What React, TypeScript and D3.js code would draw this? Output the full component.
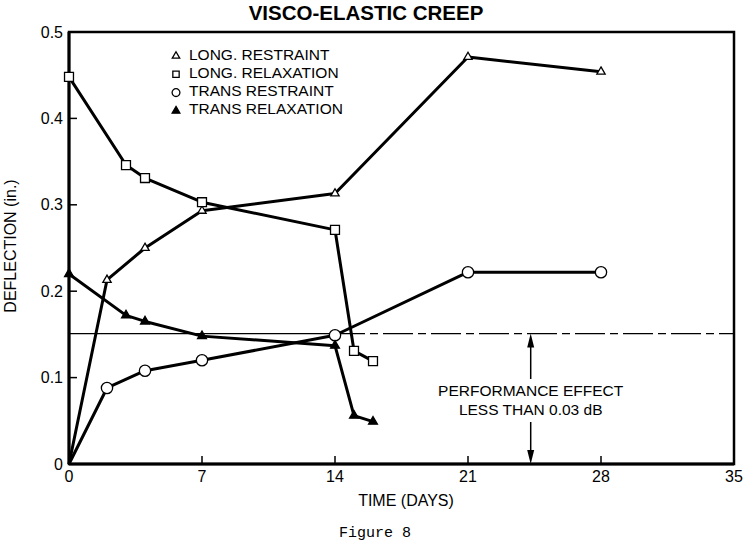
import React, { useEffect, useRef } from 'react';
import * as d3 from 'd3';

// days, deflection (in.)
const longRestraintDays = [0, 2, 4, 7, 14, 21, 28];
const longRestraintVals = [0, 0.213, 0.25, 0.293, 0.313, 0.471, 0.454];

const longRelaxDays = [0, 3, 4, 7, 14, 15, 16];
const longRelaxVals = [0.448, 0.346, 0.331, 0.303, 0.271, 0.131, 0.119];

const transRestraintDays = [0, 2, 4, 7, 14, 21, 28];
const transRestraintVals = [0, 0.088, 0.108, 0.12, 0.149, 0.222, 0.222];

const transRelaxDays = [0, 3, 4, 7, 14, 15, 16];
const transRelaxVals = [0.22, 0.172, 0.165, 0.148, 0.137, 0.056, 0.049];

const legendLabels = ['LONG. RESTRAINT', 'LONG. RELAXATION', 'TRANS RESTRAINT', 'TRANS RELAXATION'];
const xTicks = [0, 7, 14, 21, 28, 35];
const yTicks = [0, 0.1, 0.2, 0.3, 0.4, 0.5];
const yTickLabels = ['0', '0.1', '0.2', '0.3', '0.4', '0.5'];

const limitValue = 0.151;
const arrowDay = 24.3;

const W = 748;
const H = 544;

const App = () => {
  const svgRef = useRef<SVGSVGElement>(null);

  useEffect(() => {
    if (!svgRef.current) return;
    const svg = d3.select(svgRef.current);
    svg.selectAll('*').remove();

    const x = d3.scaleLinear().domain([0, 35]).range([69, 734]);
    const y = d3.scaleLinear().domain([0, 0.5]).range([464, 32]);
    const font = 'Liberation Sans, Arial, Helvetica, sans-serif';

    // title
    svg.append('text')
      .attr('x', 366).attr('y', 20)
      .attr('text-anchor', 'middle')
      .style('font-family', font).style('font-weight', 'bold').style('font-size', '20.5px')
      .text('VISCO-ELASTIC CREEP');

    // frame
    svg.append('rect')
      .attr('x', x(0)).attr('y', y(0.5))
      .attr('width', x(35) - x(0)).attr('height', y(0) - y(0.5))
      .attr('fill', 'none').attr('stroke', '#000').attr('stroke-width', 2.5);
    svg.append('line')
      .attr('x1', x(0)).attr('x2', x(35)).attr('y1', y(0)).attr('y2', y(0))
      .attr('stroke', '#000').attr('stroke-width', 3);
    svg.append('line')
      .attr('x1', x(0)).attr('x2', x(0)).attr('y1', y(0)).attr('y2', y(0.5))
      .attr('stroke', '#000').attr('stroke-width', 3);

    // y ticks
    yTicks.forEach((t, i) => {
      if (t > 0 && t < 0.5) {
        svg.append('line')
          .attr('x1', x(0)).attr('x2', x(0) + 8).attr('y1', y(t)).attr('y2', y(t))
          .attr('stroke', '#000').attr('stroke-width', 1.5);
      }
      svg.append('text')
        .attr('x', x(0) - 6).attr('y', y(t) + 5.5)
        .attr('text-anchor', 'end')
        .style('font-family', font).style('font-size', '16px')
        .text(yTickLabels[i]);
    });

    // x ticks
    xTicks.forEach(t => {
      if (t > 0 && t < 35) {
        svg.append('line')
          .attr('x1', x(t)).attr('x2', x(t)).attr('y1', y(0)).attr('y2', y(0) - 8)
          .attr('stroke', '#000').attr('stroke-width', 1.5);
      }
      svg.append('text')
        .attr('x', x(t)).attr('y', 482)
        .attr('text-anchor', 'middle')
        .style('font-family', font).style('font-size', '16px')
        .text(String(t));
    });

    svg.append('text')
      .attr('x', 406).attr('y', 506)
      .attr('text-anchor', 'middle')
      .style('font-family', font).style('font-size', '16px')
      .text('TIME (DAYS)');

    svg.append('text')
      .attr('transform', `translate(16, 246) rotate(-90)`)
      .attr('text-anchor', 'middle')
      .style('font-family', font).style('font-size', '16px')
      .text('DEFLECTION (in.)');

    svg.append('text')
      .attr('x', 375).attr('y', 537)
      .attr('text-anchor', 'middle')
      .style('font-family', 'Liberation Mono, Courier New, monospace').style('font-size', '15px')
      .text('Figure 8');

    // limit line: solid to day 14, dashed beyond
    svg.append('line')
      .attr('x1', x(0)).attr('x2', x(14)).attr('y1', y(limitValue)).attr('y2', y(limitValue))
      .attr('stroke', '#000').attr('stroke-width', 1.2);
    svg.append('line')
      .attr('x1', x(14)).attr('x2', x(35)).attr('y1', y(limitValue)).attr('y2', y(limitValue))
      .attr('stroke', '#000').attr('stroke-width', 1.2)
      .attr('stroke-dasharray', '30 5 8 5');

    // arrows
    const arrowTop = y(limitValue);
    const labelTop = 379;
    const labelBottom = 422;
    const ax = x(arrowDay);
    svg.append('line').attr('x1', ax).attr('x2', ax).attr('y1', arrowTop + 10).attr('y2', labelTop)
      .attr('stroke', '#000').attr('stroke-width', 1.5);
    svg.append('path')
      .attr('d', `M${ax},${arrowTop} L${ax - 3.5},${arrowTop + 14} L${ax + 3.5},${arrowTop + 14} Z`)
      .attr('fill', '#000');
    svg.append('line').attr('x1', ax).attr('x2', ax).attr('y1', labelBottom).attr('y2', y(0) - 10)
      .attr('stroke', '#000').attr('stroke-width', 1.5);
    svg.append('path')
      .attr('d', `M${ax},${y(0)} L${ax - 3.5},${y(0) - 14} L${ax + 3.5},${y(0) - 14} Z`)
      .attr('fill', '#000');

    svg.append('text')
      .attr('x', ax).attr('y', 396)
      .attr('text-anchor', 'middle')
      .style('font-family', font).style('font-size', '15.5px')
      .text('PERFORMANCE EFFECT');
    svg.append('text')
      .attr('x', ax).attr('y', 415)
      .attr('text-anchor', 'middle')
      .style('font-family', font).style('font-size', '15.5px')
      .text('LESS THAN 0.03 dB');

    // series
    const series = [
      { days: longRestraintDays, vals: longRestraintVals, sym: d3.symbolTriangle, size: 30, fill: '#fff' },
      { days: longRelaxDays, vals: longRelaxVals, sym: d3.symbolSquare, size: 80, fill: '#fff' },
      { days: transRestraintDays, vals: transRestraintVals, sym: d3.symbolCircle, size: 100, fill: '#fff' },
      { days: transRelaxDays, vals: transRelaxVals, sym: d3.symbolTriangle, size: 34, fill: '#000' },
    ];

    const line = d3.line<[number, number]>().x(d => x(d[0])).y(d => y(d[1]));

    series.forEach(s => {
      const pts: [number, number][] = s.days.map((d, i) => [d, s.vals[i]]);
      svg.append('path')
        .attr('d', line(pts))
        .attr('fill', 'none').attr('stroke', '#000').attr('stroke-width', 3)
        .attr('stroke-linejoin', 'round');
    });

    series.forEach(s => {
      const pts: [number, number][] = s.days.map((d, i) => [d, s.vals[i]]);
      svg.append('g').selectAll('path')
        .data(pts.filter(p => !(p[0] === 0 && p[1] === 0)))
        .enter().append('path')
        .attr('transform', d => `translate(${x(d[0])},${y(d[1])})`)
        .attr('d', d3.symbol().type(s.sym).size(s.size)())
        .attr('fill', s.fill).attr('stroke', '#000').attr('stroke-width', 1.3);
    });

    // legend
    const legendSizes = [24, 40, 48, 26];
    const legend = svg.append('g').attr('transform', 'translate(176, 55)');
    series.forEach((s, i) => {
      legend.append('path')
        .attr('transform', `translate(0, ${i * 18.3 + 1})`)
        .attr('d', d3.symbol().type(s.sym).size(legendSizes[i])())
        .attr('fill', s.fill).attr('stroke', '#000').attr('stroke-width', 1.3);
      legend.append('text')
        .attr('x', 13).attr('y', i * 18.3 + 4.5)
        .style('font-family', font).style('font-size', '15.5px')
        .text(legendLabels[i]);
    });
  }, []);

  return (
    <svg
      ref={svgRef}
      width={W}
      height={H}
      style={{ position: 'absolute', left: 0, top: 0, background: '#fff' }}
    />
  );
};

export default App;
